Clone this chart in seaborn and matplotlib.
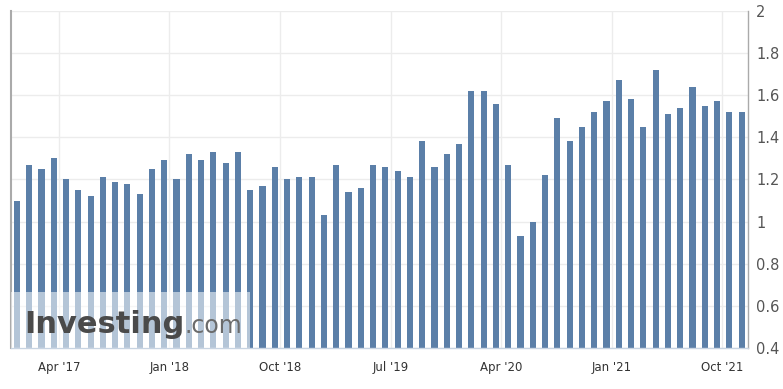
import seaborn as sns
import matplotlib.pyplot as plt
import matplotlib.patches as patches
import pandas as pd

# monthly values, Dec 2016 .. Nov 2021
months = pd.date_range("2016-12-01", periods=60, freq="MS").strftime("%b %Y").tolist()
values = [1.10, 1.27, 1.25, 1.30, 1.20, 1.15, 1.12, 1.21, 1.19, 1.18,
          1.13, 1.25, 1.29, 1.20, 1.32, 1.29, 1.33, 1.28, 1.33, 1.15,
          1.17, 1.26, 1.20, 1.21, 1.21, 1.03, 1.27, 1.14, 1.16, 1.27,
          1.26, 1.24, 1.21, 1.38, 1.26, 1.32, 1.37, 1.62, 1.62, 1.56,
          1.27, 0.93, 1.00, 1.22, 1.49, 1.38, 1.45, 1.52, 1.57, 1.67,
          1.58, 1.45, 1.72, 1.51, 1.54, 1.64, 1.55, 1.57, 1.52, 1.52]
tick_months = ["Apr 2017", "Jan 2018", "Oct 2018", "Jul 2019", "Apr 2020", "Jan 2021", "Oct 2021"]
tick_labels = ["Apr '17", "Jan '18", "Oct '18", "Jul '19", "Apr '20", "Jan '21", "Oct '21"]
y_ticks = [0.4, 0.6, 0.8, 1, 1.2, 1.4, 1.6, 1.8, 2]

df = pd.DataFrame({"month": months, "value": values})

sns.set_style("white")
fig = plt.figure(figsize=(7.83, 3.89), dpi=100)
ax = fig.add_axes([0.0137, 0.1046, 0.9413, 0.868])

sns.barplot(data=df, x="month", y="value", color="#5b7fa8", saturation=1,
            width=0.5, linewidth=0, ax=ax, zorder=2)

ax.set_ylim(0.4, 2)
ax.set_xlim(-0.5, 59.5)
ax.set_yticks(y_ticks)
ax.set_yticklabels([f"{t:g}" for t in y_ticks])
ax.yaxis.tick_right()
ax.tick_params(axis="y", length=0, pad=6, labelsize=10.5, labelcolor="#555555")

# gridline at month start, bars sit a little later in the month
tick_pos = [months.index(m) - 0.58 for m in tick_months]
ax.set_xticks(tick_pos)
ax.set_xticklabels(tick_labels)
ax.tick_params(axis="x", length=0, pad=9, labelsize=8.5, labelcolor="#333333")

ax.grid(True, color="#ececec", linewidth=1, zorder=0)
ax.set_axisbelow(True)
ax.set_xlabel("")
ax.set_ylabel("")

ax.spines["top"].set_visible(False)
ax.spines["left"].set_color("#aaaaaa")
ax.spines["left"].set_linewidth(1.5)
ax.spines["right"].set_color("#aaaaaa")
ax.spines["right"].set_linewidth(1)
ax.spines["bottom"].set_color("#c8d4e2")
ax.spines["bottom"].set_linewidth(1)

# watermark
ax.add_patch(patches.Rectangle((-0.5, 0.4), 19.45, 0.267, facecolor="white",
                               alpha=0.55, edgecolor="none", zorder=3))
t = ax.text(0.018, 0.045, "Investing", transform=ax.transAxes, fontsize=22,
            fontweight="bold", color="#4a4a4a", zorder=4)
fig.canvas.draw()
bb = t.get_window_extent().transformed(ax.transAxes.inverted())
ax.text(bb.x1 + 0.001, 0.045, ".com", transform=ax.transAxes, fontsize=17,
        color="#6b6b6b", zorder=4)

fig.savefig("out.png", dpi=100)
